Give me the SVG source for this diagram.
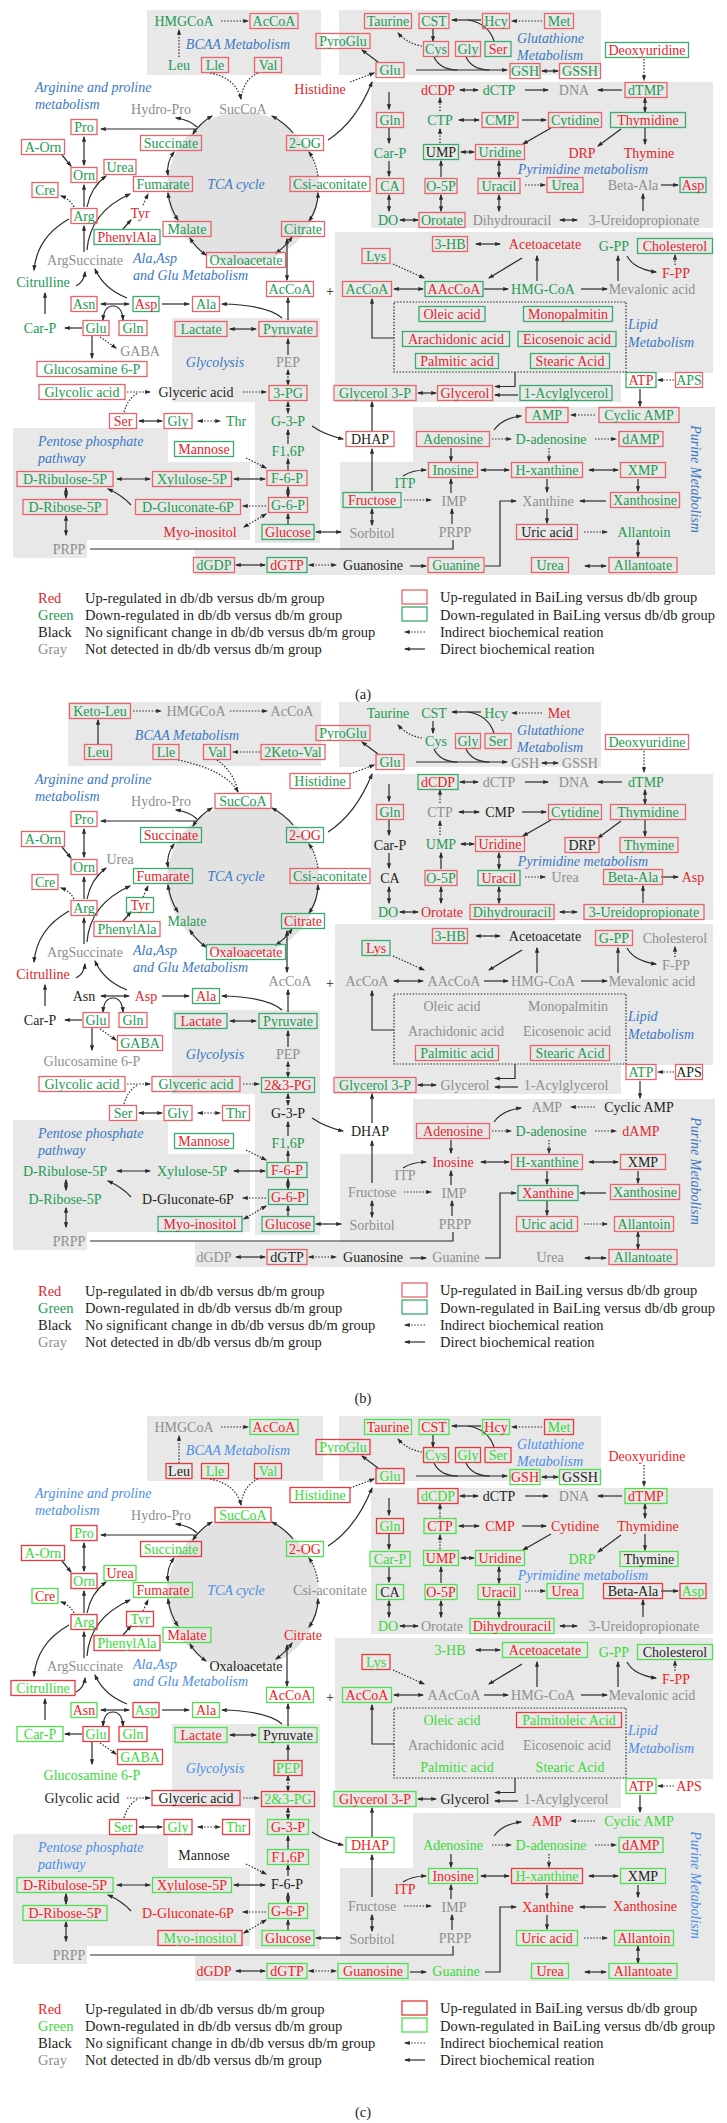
<svg xmlns="http://www.w3.org/2000/svg" width="727" height="2123" viewBox="0 0 727 2123">
<style>
text{font-family:"Liberation Serif","Times New Roman",serif;font-size:14px;dominant-baseline:central;text-anchor:middle}
.r{fill:#e1262d}.g{fill:#1e9a52}.k{fill:#231f20}.y{fill:#8e8e8e}
.R,.G{fill:none;stroke-width:1.3}.R{stroke:#e8646b}.G{stroke:#3aaa6e}
.pc .r{fill:#ee1d24}.pc .g{fill:#39d839}.pc .R{stroke:#ea3a3f}.pc .G{stroke:#4fe04f}
.lab{font-style:italic;fill:#3a78c3}.pc .lab{fill:#4a8ee6}
.st{text-anchor:start}
.bg{fill:#e8e8e8}
.s{fill:none;stroke:#2b2b2b;stroke-width:1.2}
.d{stroke-dasharray:1.5 1.6}
.e{marker-end:url(#m)}
.w{marker-start:url(#m);marker-end:url(#m)}
.lg text{text-anchor:start;font-size:14.5px}
</style>
<defs>
<marker id="m" viewBox="0 0 10 10" refX="8" refY="5" markerWidth="6" markerHeight="6" markerUnits="userSpaceOnUse" orient="auto-start-reverse"><path d="M0,1.5 L10,5 L0,8.5 z" fill="#2b2b2b"/></marker>
<g id="bgc">
<rect class="bg" x="339" y="10" width="262" height="65"/>
<rect class="bg" x="371" y="82" width="342" height="146"/>
<path class="bg" d="M335,232H713V373H621V402H335Z"/>
<path class="bg" d="M172,318H320V543H255V402H172Z"/>
<path class="bg" d="M13,428H168V462H250V540H87V558H13Z"/>
<path class="bg" d="M340,462H413V407H715V575H195V550H340Z"/>
<circle cx="243" cy="188" r="76" fill="#e2e2e2"/>
</g>
<g id="cc">
<path class="s e" d="M197,129H101"/>
<path class="s e" d="M197,127Q190,120 176,118"/>
<path class="s w" d="M193,134Q200,123 212,116"/>
<path class="s e" d="M293,133Q285,123 272,116"/>
<path class="s w" d="M174,152Q166,163 168,175"/>
<path class="s w" d="M168,193Q170,208 178,220"/>
<path class="s w" d="M190,238Q196,248 206,255"/>
<path class="s w" d="M276,253Q286,246 292,237"/>
<path class="s w" d="M309,221Q318,208 318,193"/>
<path class="s d e" d="M318,176Q316,162 309,152"/>
<path class="s w" d="M287,239V280"/>
<path class="s e" d="M288,320V298"/>
<path class="s e" d="M282,318Q268,305 222,304"/>
<path class="s w" d="M84,137V165"/>
<path class="s e" d="M62,155L71,166"/>
<path class="s e" d="M84,207V185"/>
<path class="s e" d="M87,207Q91,187 106,176"/>
<path class="s d e" d="M74,207Q70,199 61,196"/>
<path class="s d e" d="M143,205L148,194"/>
<path class="s e" d="M123,229L131,220"/>
<path class="s e" d="M84,252V226"/>
<path class="s e" d="M87,250Q90,212 130,194"/>
<path class="s e" d="M69,219Q37,237 34,270"/>
<path class="s e" d="M76,286Q84,282 85,272"/>
<path class="s e" d="M127,298Q104,289 95,269"/>
<path class="s w" d="M101,304H129"/>
<path class="s e" d="M162,304H189"/>
<path class="s w" d="M103,320Q104,306 113,306Q122,306 123,320"/>
<path class="s e" d="M45,314V293"/>
<path class="s e" d="M82,328H65"/>
<path class="s e" d="M92,336V358"/>
<path class="s d e" d="M100,337L116,348"/>
<path class="s d e" d="M127,392H150"/>
<path class="s d" d="M124,412Q128,398 138,393"/>
<path class="s d w" d="M288,370V385"/>
<path class="s e" d="M288,355V339"/>
<path class="s w" d="M230,329H256"/>
<path class="s d w" d="M288,402V413"/>
<path class="s e" d="M312,426Q325,435 343,439"/>
<path class="s e" d="M288,444V430"/>
<path class="s e" d="M288,470V459"/>
<path class="s d e" d="M246,458L266,468"/>
<path class="s w" d="M139,421H162"/>
<path class="s d w" d="M198,421H220"/>
<path class="s w" d="M117,479H150"/>
<path class="s w" d="M234,479H265"/>
<path class="s w" d="M66,488V498"/>
<path class="s e" d="M131,505Q122,495 108,489"/>
<path class="s d e" d="M266,506H243"/>
<path class="s w" d="M288,487V497"/>
<path class="s d w" d="M244,527L266,514"/>
<path class="s e" d="M288,525V514"/>
<path class="s w" d="M316,532H341"/>
<path class="s w" d="M66,516V535"/>
<path class="s" d="M90,549H453V540"/>
<path class="s w" d="M236,565H265"/>
<path class="s d w" d="M309,565H336"/>
<path class="s d e" d="M542,21H512"/>
<path class="s e" d="M481,20H452"/>
<path class="s" d="M494,41Q488,23 468,20"/>
<path class="s e" d="M433,29V41"/>
<path class="s d e" d="M422,46Q408,44 398,33"/>
<path class="s e" d="M378,62L362,50"/>
<path class="s d e" d="M350,82L374,73"/>
<path class="s e" d="M328,140Q356,122 372,82"/>
<path class="s e" d="M416,70H507"/>
<path class="s" d="M434,57Q440,70 458,70"/>
<path class="s" d="M466,57Q472,70 490,70"/>
<path class="s w" d="M542,71H558"/>
<path class="s d e" d="M644,59V80"/>
<path class="s w" d="M460,90H478"/>
<path class="s e" d="M525,90H548"/>
<path class="s e" d="M622,90H598"/>
<path class="s d e" d="M440,111V98"/>
<path class="s w" d="M645,98V112"/>
<path class="s w" d="M459,120H479"/>
<path class="s e" d="M522,120H546"/>
<path class="s e" d="M389,92V109"/>
<path class="s e" d="M389,128V143"/>
<path class="s d e" d="M440,143V129"/>
<path class="s w" d="M461,152H474"/>
<path class="s e" d="M551,128L523,144"/>
<path class="s e" d="M621,129L598,146"/>
<path class="s e" d="M645,128V144"/>
<path class="s e" d="M389,161V176"/>
<path class="s e" d="M441,177V161"/>
<path class="s w" d="M499,161V177"/>
<path class="s d e" d="M525,185H545"/>
<path class="s e" d="M661,185H678"/>
<path class="s w" d="M389,195V211"/>
<path class="s w" d="M441,195V211"/>
<path class="s w" d="M499,195V211"/>
<path class="s e" d="M643,211V194"/>
<path class="s w" d="M400,220H418"/>
<path class="s w" d="M560,220H577"/>
<path class="s w" d="M476,244H500"/>
<path class="s e" d="M522,258L489,278"/>
<path class="s e" d="M537,281V256"/>
<path class="s e" d="M484,289H508"/>
<path class="s e" d="M581,289H607"/>
<path class="s e" d="M618,281V256"/>
<path class="s e" d="M627,256Q634,269 656,272"/>
<path class="s d e" d="M675,265V255"/>
<path class="s d e" d="M393,264L424,278"/>
<path class="s w" d="M394,289H423"/>
<rect class="s d" x="394" y="302" width="232" height="70"/>
<path class="s e" d="M394,338H372V299"/>
<path class="s e" d="M515,372V386.5H495"/>
<path class="s e" d="M518,395H495"/>
<path class="s w" d="M418,393H436"/>
<path class="s d e" d="M674,380H658"/>
<path class="s e" d="M640,389V406"/>
<path class="s d e" d="M595,415H571"/>
<path class="s e" d="M494,430Q503,418 521,416"/>
<path class="s d e" d="M492,439H511"/>
<path class="s d e" d="M595,439H616"/>
<path class="s e" d="M372,431V402"/>
<path class="s e" d="M372,491V449"/>
<path class="s e" d="M451,448V461"/>
<path class="s d e" d="M549,448V461"/>
<path class="s e" d="M403,476Q412,470 426,470"/>
<path class="s w" d="M481,470H509"/>
<path class="s w" d="M589,470H618"/>
<path class="s d e" d="M404,500H431"/>
<path class="s e" d="M451,493V479"/>
<path class="s e" d="M547,479V492"/>
<path class="s e" d="M638,479V491"/>
<path class="s e" d="M606,501H580"/>
<path class="s w" d="M372,509V525"/>
<path class="s e" d="M452,524V509"/>
<path class="s e" d="M485,566H500V501H516"/>
<path class="s e" d="M547,509V523"/>
<path class="s d e" d="M584,532H607"/>
<path class="s w" d="M638,540V557"/>
<path class="s e" d="M410,566H426"/>
<path class="s w" d="M585,566H606"/>
</g>
</defs>

<g id="panel-a">
<use href="#bgc"/>
<rect class="bg" x="147" y="10" width="174" height="65"/>
<g id="connectors-a">
<use href="#cc"/>
<path class="s d e" d="M221,21H248"/>
<path class="s d e" d="M179,57V30"/>
<path class="s d e" d="M210,73Q236,78 241,99"/>
<path class="s d" d="M258,73Q243,80 241,99"/>
<path class="s d e" d="M243,392H266"/>
</g>
<g id="labels-a">
<text class="lab" x="238" y="44">BCAA Metabolism</text>
<text class="lab st" x="35" y="87">Arginine and proline</text>
<text class="lab st" x="35" y="104">metabolism</text>
<text class="lab" x="236" y="184">TCA cycle</text>
<text class="lab st" x="133" y="258">Ala,Asp</text>
<text class="lab st" x="133" y="275">and Glu Metabolism</text>
<text class="lab" x="215" y="362">Glycolysis</text>
<text class="lab st" x="38" y="441">Pentose phosphate</text>
<text class="lab st" x="38" y="458">pathway</text>
<text class="lab st" x="517" y="38">Glutathione</text>
<text class="lab st" x="517" y="55">Metabolism</text>
<text class="lab" x="583" y="169">Pyrimidine metabolism</text>
<text class="lab st" x="628" y="324">Lipid</text>
<text class="lab st" x="628" y="342">Metabolism</text>
<text class="lab" transform="rotate(90 695 479)" x="695" y="479">Purine Metabolism</text>
<text class="k" x="330" y="291">+</text>
</g>
<g id="a-HMGCoA"><text class="g" x="184" y="21">HMGCoA</text></g>
<g id="a-AcCoA1"><rect class="R" x="250" y="13.5" width="48" height="15"/><text class="g" x="274" y="21">AcCoA</text></g>
<g id="a-Leu"><text class="g" x="179" y="65">Leu</text></g>
<g id="a-Lle"><rect class="R" x="201.5" y="57.5" width="27" height="15"/><text class="g" x="215" y="65">Lle</text></g>
<g id="a-Val"><rect class="R" x="254.5" y="57.5" width="27" height="15"/><text class="g" x="268" y="65">Val</text></g>
<g id="a-SucCoA"><text class="y" x="243" y="109">SucCoA</text></g>
<g id="a-HydroPro"><text class="y" x="161" y="109">Hydro-Pro</text></g>
<g id="a-Histidine"><text class="r" x="320" y="89">Histidine</text></g>
<g id="a-Pro"><rect class="R" x="71" y="119.5" width="26" height="15"/><text class="g" x="84" y="127">Pro</text></g>
<g id="a-AOrn"><rect class="R" x="21.5" y="139.5" width="43" height="15"/><text class="g" x="43" y="147">A-Orn</text></g>
<g id="a-Succinate"><rect class="R" x="140.5" y="135.5" width="61" height="15"/><text class="g" x="171" y="143">Succinate</text></g>
<g id="a-2OG"><rect class="R" x="286.5" y="135.5" width="37" height="15"/><text class="g" x="305" y="143">2-OG</text></g>
<g id="a-Orn"><rect class="R" x="71" y="167.5" width="26" height="15"/><text class="g" x="84" y="175">Orn</text></g>
<g id="a-Urea1"><rect class="R" x="104" y="159.5" width="32" height="15"/><text class="g" x="120" y="167">Urea</text></g>
<g id="a-Cre"><rect class="R" x="32" y="182.5" width="26" height="15"/><text class="g" x="45" y="190">Cre</text></g>
<g id="a-Fumarate"><rect class="R" x="133.5" y="176.5" width="59" height="15"/><text class="g" x="163" y="184">Fumarate</text></g>
<g id="a-Csi"><rect class="R" x="290" y="176.5" width="80" height="15"/><text class="g" x="330" y="184">Csi-aconitate</text></g>
<g id="a-Arg"><rect class="R" x="71" y="208.5" width="26" height="15"/><text class="g" x="84" y="216">Arg</text></g>
<g id="a-Tyr"><text class="r" x="140" y="213">Tyr</text></g>
<g id="a-Malate"><rect class="R" x="163" y="221.5" width="48" height="15"/><text class="g" x="187" y="229">Malate</text></g>
<g id="a-Citrate"><rect class="R" x="281.5" y="221.5" width="43" height="15"/><text class="g" x="303" y="229">Citrate</text></g>
<g id="a-PhenylAla"><rect class="G" x="94" y="229.5" width="66" height="15"/><text class="r" x="127" y="237">PhenylAla</text></g>
<g id="a-ArgSuccinate"><text class="y" x="85" y="260">ArgSuccinate</text></g>
<g id="a-Oxaloacetate"><rect class="R" x="206.5" y="252.5" width="79" height="15"/><text class="g" x="246" y="260">Oxaloacetate</text></g>
<g id="a-Citrulline"><text class="g" x="43" y="282">Citrulline</text></g>
<g id="a-AcCoA2"><rect class="R" x="266.5" y="281.5" width="47" height="15"/><text class="g" x="290" y="289">AcCoA</text></g>
<g id="a-Asn"><rect class="R" x="71" y="296.5" width="26" height="15"/><text class="g" x="84" y="304">Asn</text></g>
<g id="a-Asp1"><rect class="G" x="133" y="296.5" width="26" height="15"/><text class="r" x="146" y="304">Asp</text></g>
<g id="a-Ala"><rect class="R" x="192.5" y="296.5" width="27" height="15"/><text class="g" x="206" y="304">Ala</text></g>
<g id="a-CarP1"><text class="g" x="40" y="328">Car-P</text></g>
<g id="a-Glu1"><rect class="R" x="83" y="320.5" width="26" height="15"/><text class="g" x="96" y="328">Glu</text></g>
<g id="a-Gln1"><rect class="R" x="119" y="320.5" width="28" height="15"/><text class="g" x="133" y="328">Gln</text></g>
<g id="a-GABA"><text class="y" x="140" y="351">GABA</text></g>
<g id="a-Glucosamine"><rect class="R" x="37" y="361.5" width="110" height="15"/><text class="g" x="92" y="369">Glucosamine 6-P</text></g>
<g id="a-Glycolic"><rect class="R" x="39" y="384.5" width="86" height="15"/><text class="g" x="82" y="392">Glycolic acid</text></g>
<g id="a-Glyceric"><text class="k" x="196" y="392">Glyceric acid</text></g>
<g id="a-3PG"><rect class="R" x="269" y="385.5" width="38" height="15"/><text class="g" x="288" y="393">3-PG</text></g>
<g id="a-Lactate"><rect class="R" x="175" y="321.5" width="52" height="15"/><text class="g" x="201" y="329">Lactate</text></g>
<g id="a-Pyruvate"><rect class="R" x="259" y="321.5" width="58" height="15"/><text class="g" x="288" y="329">Pyruvate</text></g>
<g id="a-PEP"><text class="y" x="288" y="362">PEP</text></g>
<g id="a-Ser1"><rect class="R" x="109.5" y="413.5" width="27" height="15"/><text class="r" x="123" y="421">Ser</text></g>
<g id="a-Gly1"><rect class="R" x="164" y="413.5" width="28" height="15"/><text class="g" x="178" y="421">Gly</text></g>
<g id="a-Thr"><text class="g" x="236" y="421">Thr</text></g>
<g id="a-G3P"><text class="g" x="288" y="421">G-3-P</text></g>
<g id="a-F16P"><text class="g" x="288" y="451">F1,6P</text></g>
<g id="a-Mannose"><rect class="G" x="174.5" y="441.5" width="59" height="15"/><text class="r" x="204" y="449">Mannose</text></g>
<g id="a-F6P"><rect class="R" x="267" y="470.5" width="40" height="15"/><text class="g" x="287" y="478">F-6-P</text></g>
<g id="a-Ribulose"><rect class="R" x="17" y="471.5" width="96" height="15"/><text class="g" x="65" y="479">D-Ribulose-5P</text></g>
<g id="a-Xylulose"><rect class="R" x="152.5" y="471.5" width="79" height="15"/><text class="g" x="192" y="479">Xylulose-5P</text></g>
<g id="a-Ribose"><rect class="R" x="23" y="499.5" width="84" height="15"/><text class="g" x="65" y="507">D-Ribose-5P</text></g>
<g id="a-Gluconate"><rect class="R" x="135.5" y="499.5" width="105" height="15"/><text class="g" x="188" y="507">D-Gluconate-6P</text></g>
<g id="a-G6P"><rect class="R" x="268.5" y="497.5" width="39" height="15"/><text class="g" x="288" y="505">G-6-P</text></g>
<g id="a-Myo"><text class="r" x="200" y="532">Myo-inositol</text></g>
<g id="a-Glucose"><rect class="G" x="262" y="524.5" width="52" height="15"/><text class="r" x="288" y="532">Glucose</text></g>
<g id="a-PRPP1"><text class="y" x="69" y="549">PRPP</text></g>
<g id="a-dGDP"><rect class="R" x="193.5" y="557.5" width="41" height="15"/><text class="g" x="214" y="565">dGDP</text></g>
<g id="a-dGTP"><rect class="G" x="267" y="557.5" width="40" height="15"/><text class="r" x="287" y="565">dGTP</text></g>
<g id="a-Taurine"><rect class="R" x="364.5" y="13.5" width="47" height="15"/><text class="g" x="388" y="21">Taurine</text></g>
<g id="a-CST"><rect class="R" x="419" y="13.5" width="30" height="15"/><text class="g" x="434" y="21">CST</text></g>
<g id="a-Hcy"><rect class="R" x="482.5" y="13.5" width="27" height="15"/><text class="g" x="496" y="21">Hcy</text></g>
<g id="a-Met"><rect class="R" x="544.5" y="13.5" width="29" height="15"/><text class="g" x="559" y="21">Met</text></g>
<g id="a-PyroGlu"><rect class="R" x="316" y="33.5" width="54" height="15"/><text class="g" x="343" y="41">PyroGlu</text></g>
<g id="a-Glu2"><rect class="R" x="376" y="62.5" width="28" height="15"/><text class="g" x="390" y="70">Glu</text></g>
<g id="a-Cys"><rect class="R" x="423.5" y="41.5" width="25" height="15"/><text class="g" x="436" y="49">Cys</text></g>
<g id="a-Gly2"><rect class="R" x="455.5" y="41.5" width="25" height="15"/><text class="g" x="468" y="49">Gly</text></g>
<g id="a-Ser2"><rect class="G" x="485" y="41.5" width="26" height="15"/><text class="r" x="498" y="49">Ser</text></g>
<g id="a-GSH"><rect class="R" x="510" y="63.5" width="30" height="15"/><text class="g" x="525" y="71">GSH</text></g>
<g id="a-GSSH"><rect class="R" x="559.5" y="63.5" width="41" height="15"/><text class="g" x="580" y="71">GSSH</text></g>
<g id="a-Deoxyuridine"><rect class="G" x="605.5" y="42.5" width="83" height="15"/><text class="r" x="647" y="50">Deoxyuridine</text></g>
<g id="a-dCDP"><text class="r" x="438" y="90">dCDP</text></g>
<g id="a-dCTP"><text class="g" x="499" y="90">dCTP</text></g>
<g id="a-DNA"><text class="y" x="574" y="90">DNA</text></g>
<g id="a-dTMP"><rect class="R" x="625" y="82.5" width="42" height="15"/><text class="g" x="646" y="90">dTMP</text></g>
<g id="a-Gln2"><rect class="R" x="376.5" y="112.5" width="27" height="15"/><text class="g" x="390" y="120">Gln</text></g>
<g id="a-CTP"><text class="g" x="440" y="120">CTP</text></g>
<g id="a-CMP"><rect class="R" x="482" y="112.5" width="36" height="15"/><text class="g" x="500" y="120">CMP</text></g>
<g id="a-Cytidine"><rect class="R" x="548.5" y="112.5" width="53" height="15"/><text class="g" x="575" y="120">Cytidine</text></g>
<g id="a-Thymidine"><rect class="G" x="610.5" y="112.5" width="75" height="15"/><text class="r" x="648" y="120">Thymidine</text></g>
<g id="a-CarP2"><text class="g" x="390" y="153">Car-P</text></g>
<g id="a-UMP"><rect class="G" x="423.5" y="144.5" width="35" height="15"/><text class="k" x="441" y="152">UMP</text></g>
<g id="a-Uridine"><rect class="R" x="475.5" y="144.5" width="49" height="15"/><text class="g" x="500" y="152">Uridine</text></g>
<g id="a-DRP"><text class="r" x="582" y="153">DRP</text></g>
<g id="a-Thymine"><text class="r" x="649" y="153">Thymine</text></g>
<g id="a-CA"><rect class="R" x="376.5" y="178.5" width="27" height="15"/><text class="g" x="390" y="186">CA</text></g>
<g id="a-O5P"><rect class="R" x="425" y="178.5" width="32" height="15"/><text class="g" x="441" y="186">O-5P</text></g>
<g id="a-Uracil"><rect class="R" x="478" y="178.5" width="42" height="15"/><text class="g" x="499" y="186">Uracil</text></g>
<g id="a-Urea2"><rect class="R" x="547" y="177.5" width="36" height="15"/><text class="g" x="565" y="185">Urea</text></g>
<g id="a-BetaAla"><text class="y" x="633" y="185">Beta-Ala</text></g>
<g id="a-Asp2"><rect class="G" x="680" y="177.5" width="26" height="15"/><text class="r" x="693" y="185">Asp</text></g>
<g id="a-DO"><text class="g" x="388" y="220">DO</text></g>
<g id="a-Orotate"><rect class="R" x="419" y="212.5" width="46" height="15"/><text class="g" x="442" y="220">Orotate</text></g>
<g id="a-Dihydrouracil"><text class="y" x="512" y="220">Dihydrouracil</text></g>
<g id="a-Ureido"><text class="y" x="644" y="220">3-Ureidopropionate</text></g>
<g id="a-3HB"><rect class="R" x="432.5" y="236.5" width="35" height="15"/><text class="g" x="450" y="244">3-HB</text></g>
<g id="a-Acetoacetate"><text class="r" x="545" y="244">Acetoacetate</text></g>
<g id="a-GPP"><text class="g" x="614" y="246">G-PP</text></g>
<g id="a-Cholesterol"><rect class="G" x="637.5" y="238.5" width="75" height="15"/><text class="r" x="675" y="246">Cholesterol</text></g>
<g id="a-FPP"><text class="r" x="676" y="273">F-PP</text></g>
<g id="a-Lys"><rect class="R" x="362" y="248.5" width="28" height="15"/><text class="g" x="376" y="256">Lys</text></g>
<g id="a-AcCoA3"><rect class="R" x="342.5" y="281.5" width="49" height="15"/><text class="g" x="367" y="289">AcCoA</text></g>
<g id="a-AAcCoA"><rect class="G" x="425" y="281.5" width="58" height="15"/><text class="r" x="454" y="289">AAcCoA</text></g>
<g id="a-HMGCoA2"><text class="g" x="543" y="289">HMG-CoA</text></g>
<g id="a-Mevalonic"><text class="y" x="652" y="289">Mevalonic acid</text></g>
<g id="a-Oleic"><rect class="G" x="419" y="306.5" width="66" height="15"/><text class="r" x="452" y="314">Oleic acid</text></g>
<g id="a-Monopalmitin"><rect class="G" x="523.5" y="306.5" width="89" height="15"/><text class="r" x="568" y="314">Monopalmitin</text></g>
<g id="a-Arachidonic"><rect class="G" x="402.5" y="331.5" width="107" height="15"/><text class="r" x="456" y="339">Arachidonic acid</text></g>
<g id="a-Eicosenoic"><rect class="G" x="518" y="331.5" width="98" height="15"/><text class="r" x="567" y="339">Eicosenoic acid</text></g>
<g id="a-Palmitic"><rect class="G" x="415.5" y="353.5" width="83" height="15"/><text class="r" x="457" y="361">Palmitic acid</text></g>
<g id="a-Stearic"><rect class="G" x="530.5" y="353.5" width="79" height="15"/><text class="r" x="570" y="361">Stearic Acid</text></g>
<g id="a-Glycerol3P"><rect class="R" x="334" y="385.5" width="82" height="15"/><text class="g" x="375" y="393">Glycerol 3-P</text></g>
<g id="a-Glycerol"><rect class="R" x="437.5" y="385.5" width="55" height="15"/><text class="r" x="465" y="393">Glycerol</text></g>
<g id="a-Acylglycerol"><rect class="G" x="520" y="385.5" width="92" height="15"/><text class="g" x="566" y="393">1-Acylglycerol</text></g>
<g id="a-ATP"><rect class="G" x="626" y="372.5" width="30" height="15"/><text class="r" x="641" y="380">ATP</text></g>
<g id="a-APS"><rect class="R" x="675.5" y="372.5" width="27" height="15"/><text class="g" x="689" y="380">APS</text></g>
<g id="a-AMP"><rect class="R" x="526" y="407.5" width="42" height="15"/><text class="g" x="547" y="415">AMP</text></g>
<g id="a-CyclicAMP"><rect class="R" x="599" y="407.5" width="80" height="15"/><text class="g" x="639" y="415">Cyclic AMP</text></g>
<g id="a-Adenosine"><rect class="R" x="416.5" y="431.5" width="73" height="15"/><text class="g" x="453" y="439">Adenosine</text></g>
<g id="a-Dadenosine"><text class="g" x="551" y="439">D-adenosine</text></g>
<g id="a-dAMP"><rect class="R" x="619" y="431.5" width="44" height="15"/><text class="g" x="641" y="439">dAMP</text></g>
<g id="a-DHAP"><rect class="R" x="346" y="431.5" width="48" height="15"/><text class="k" x="370" y="439">DHAP</text></g>
<g id="a-Inosine"><rect class="R" x="428.5" y="462.5" width="49" height="15"/><text class="g" x="453" y="470">Inosine</text></g>
<g id="a-Hxanthine"><rect class="R" x="511.5" y="462.5" width="71" height="15"/><text class="g" x="547" y="470">H-xanthine</text></g>
<g id="a-XMP"><rect class="R" x="620.5" y="462.5" width="45" height="15"/><text class="g" x="643" y="470">XMP</text></g>
<g id="a-ITP"><text class="g" x="405" y="483">ITP</text></g>
<g id="a-Fructose"><rect class="G" x="343" y="492.5" width="58" height="15"/><text class="r" x="372" y="500">Fructose</text></g>
<g id="a-IMP"><text class="y" x="454" y="501">IMP</text></g>
<g id="a-Xanthine"><text class="y" x="548" y="501">Xanthine</text></g>
<g id="a-Xanthosine"><rect class="R" x="610.5" y="492.5" width="69" height="15"/><text class="g" x="645" y="500">Xanthosine</text></g>
<g id="a-Sorbitol"><text class="y" x="372" y="533">Sorbitol</text></g>
<g id="a-PRPP2"><text class="y" x="455" y="532">PRPP</text></g>
<g id="a-UricAcid"><rect class="R" x="516.5" y="524.5" width="61" height="15"/><text class="k" x="547" y="532">Uric acid</text></g>
<g id="a-Allantoin"><text class="g" x="644" y="532">Allantoin</text></g>
<g id="a-Guanosine"><text class="k" x="373" y="565">Guanosine</text></g>
<g id="a-Guanine"><rect class="R" x="428" y="557.5" width="56" height="15"/><text class="g" x="456" y="565">Guanine</text></g>
<g id="a-Urea3"><rect class="R" x="531.5" y="557.5" width="37" height="15"/><text class="g" x="550" y="565">Urea</text></g>
<g id="a-Allantoate"><rect class="R" x="609" y="557.5" width="68" height="15"/><text class="g" x="643" y="565">Allantoate</text></g>
<g id="legend-a" class="lg">
<text class="r" x="38" y="598">Red</text><text class="k" x="85" y="598">Up-regulated in db/db versus db/m group</text>
<text class="g" x="38" y="615">Green</text><text class="k" x="85" y="615">Down-regulated in db/db versus db/m group</text>
<text class="k" x="38" y="632">Black</text><text class="k" x="85" y="632">No significant change in db/db versus db/m group</text>
<text class="y" x="38" y="649">Gray</text><text class="k" x="85" y="649">Not detected in db/db versus db/m group</text>
<rect class="R" x="402" y="590" width="25" height="14"/><text class="k" x="440" y="597">Up-regulated in BaiLing versus db/db group</text>
<rect class="G" x="402" y="607" width="25" height="14"/><text class="k" x="440" y="615">Down-regulated in BaiLing versus db/db group</text>
<path class="s d e" d="M425,632H405"/><text class="k" x="440" y="632">Indirect biochemical reation</text>
<path class="s e" d="M425,649H405"/><text class="k" x="440" y="649">Direct biochemical reation</text>
</g>
</g>
<text class="k" x="363" y="694" style="font-size:14.5px">(a)</text>

<g id="panel-b" transform="translate(0,692)">
<use href="#bgc"/>
<rect class="bg" x="68" y="10" width="253" height="64"/>
<g id="connectors-b">
<use href="#cc"/>
<path class="s d e" d="M133,19H161"/>
<path class="s d e" d="M230,19H267"/>
<path class="s e" d="M98,52V28"/>
<path class="s d e" d="M260,60H233"/>
<path class="s d e" d="M178,68Q226,78 238,100"/>
<path class="s d" d="M217,68Q234,80 238,100"/>
<path class="s d e" d="M243,392H259"/>
</g>
<g id="labels-b">
<text class="lab" x="187" y="43">BCAA Metabolism</text>
<text class="lab st" x="35" y="87">Arginine and proline</text>
<text class="lab st" x="35" y="104">metabolism</text>
<text class="lab" x="236" y="184">TCA cycle</text>
<text class="lab st" x="133" y="258">Ala,Asp</text>
<text class="lab st" x="133" y="275">and Glu Metabolism</text>
<text class="lab" x="215" y="362">Glycolysis</text>
<text class="lab st" x="38" y="441">Pentose phosphate</text>
<text class="lab st" x="38" y="458">pathway</text>
<text class="lab st" x="517" y="38">Glutathione</text>
<text class="lab st" x="517" y="55">Metabolism</text>
<text class="lab" x="583" y="169">Pyrimidine metabolism</text>
<text class="lab st" x="628" y="324">Lipid</text>
<text class="lab st" x="628" y="342">Metabolism</text>
<text class="lab" transform="rotate(90 695 479)" x="695" y="479">Purine Metabolism</text>
<text class="k" x="330" y="291">+</text>
</g>
<g id="b-KetoLeu"><rect class="R" x="69.5" y="11.5" width="61" height="15"/><text class="g" x="100" y="19">Keto-Leu</text></g>
<g id="b-HMGCoA"><text class="y" x="196" y="19">HMGCoA</text></g>
<g id="b-AcCoA1"><text class="y" x="292" y="19">AcCoA</text></g>
<g id="b-Leu"><rect class="R" x="84.5" y="52.5" width="27" height="15"/><text class="g" x="98" y="60">Leu</text></g>
<g id="b-Lle"><rect class="R" x="153" y="52.5" width="26" height="15"/><text class="g" x="166" y="60">Lle</text></g>
<g id="b-Val"><rect class="R" x="203.5" y="52.5" width="27" height="15"/><text class="g" x="217" y="60">Val</text></g>
<g id="b-2KetoVal"><rect class="R" x="261" y="52.5" width="64" height="15"/><text class="g" x="293" y="60">2Keto-Val</text></g>
<g id="b-SucCoA"><rect class="R" x="215" y="101.5" width="56" height="15"/><text class="g" x="243" y="109">SucCoA</text></g>
<g id="b-HydroPro"><text class="y" x="161" y="109">Hydro-Pro</text></g>
<g id="b-Histidine"><rect class="R" x="290" y="81.5" width="60" height="15"/><text class="g" x="320" y="89">Histidine</text></g>
<g id="b-Pro"><rect class="R" x="71" y="119.5" width="26" height="15"/><text class="g" x="84" y="127">Pro</text></g>
<g id="b-AOrn"><rect class="R" x="21.5" y="139.5" width="43" height="15"/><text class="g" x="43" y="147">A-Orn</text></g>
<g id="b-Succinate"><rect class="G" x="140.5" y="135.5" width="61" height="15"/><text class="r" x="171" y="143">Succinate</text></g>
<g id="b-2OG"><rect class="G" x="286.5" y="135.5" width="37" height="15"/><text class="r" x="305" y="143">2-OG</text></g>
<g id="b-Orn"><rect class="R" x="71" y="167.5" width="26" height="15"/><text class="g" x="84" y="175">Orn</text></g>
<g id="b-Urea1"><text class="y" x="120" y="167">Urea</text></g>
<g id="b-Cre"><rect class="R" x="32" y="182.5" width="26" height="15"/><text class="g" x="45" y="190">Cre</text></g>
<g id="b-Fumarate"><rect class="G" x="133.5" y="176.5" width="59" height="15"/><text class="r" x="163" y="184">Fumarate</text></g>
<g id="b-Csi"><rect class="R" x="290" y="176.5" width="80" height="15"/><text class="g" x="330" y="184">Csi-aconitate</text></g>
<g id="b-Arg"><rect class="R" x="71" y="208.5" width="26" height="15"/><text class="g" x="84" y="216">Arg</text></g>
<g id="b-Tyr"><rect class="G" x="126.5" y="205.5" width="27" height="15"/><text class="r" x="140" y="213">Tyr</text></g>
<g id="b-Malate"><text class="g" x="187" y="229">Malate</text></g>
<g id="b-Citrate"><rect class="G" x="281.5" y="221.5" width="43" height="15"/><text class="r" x="303" y="229">Citrate</text></g>
<g id="b-PhenylAla"><rect class="R" x="94" y="229.5" width="66" height="15"/><text class="g" x="127" y="237">PhenylAla</text></g>
<g id="b-ArgSuccinate"><text class="y" x="85" y="260">ArgSuccinate</text></g>
<g id="b-Oxaloacetate"><rect class="G" x="206.5" y="252.5" width="79" height="15"/><text class="r" x="246" y="260">Oxaloacetate</text></g>
<g id="b-Citrulline"><text class="r" x="43" y="282">Citrulline</text></g>
<g id="b-AcCoA2"><text class="y" x="290" y="289">AcCoA</text></g>
<g id="b-Asn"><text class="k" x="84" y="304">Asn</text></g>
<g id="b-Asp1"><text class="r" x="146" y="304">Asp</text></g>
<g id="b-Ala"><rect class="G" x="192.5" y="296.5" width="27" height="15"/><text class="r" x="206" y="304">Ala</text></g>
<g id="b-CarP1"><text class="k" x="40" y="328">Car-P</text></g>
<g id="b-Glu1"><rect class="R" x="83" y="320.5" width="26" height="15"/><text class="g" x="96" y="328">Glu</text></g>
<g id="b-Gln1"><rect class="R" x="119" y="320.5" width="28" height="15"/><text class="g" x="133" y="328">Gln</text></g>
<g id="b-GABA"><rect class="R" x="117.5" y="343.5" width="45" height="15"/><text class="g" x="140" y="351">GABA</text></g>
<g id="b-Glucosamine"><text class="y" x="92" y="369">Glucosamine 6-P</text></g>
<g id="b-Glycolic"><rect class="R" x="39" y="384.5" width="86" height="15"/><text class="g" x="82" y="392">Glycolic acid</text></g>
<g id="b-Glyceric"><rect class="R" x="152" y="384.5" width="88" height="15"/><text class="g" x="196" y="392">Glyceric acid</text></g>
<g id="b-23PG"><rect class="G" x="261.5" y="385.5" width="53" height="15"/><text class="r" x="288" y="393">2&amp;3-PG</text></g>
<g id="b-Lactate"><rect class="G" x="175" y="321.5" width="52" height="15"/><text class="r" x="201" y="329">Lactate</text></g>
<g id="b-Pyruvate"><rect class="G" x="259" y="321.5" width="58" height="15"/><text class="g" x="288" y="329">Pyruvate</text></g>
<g id="b-PEP"><text class="y" x="288" y="362">PEP</text></g>
<g id="b-Ser1"><rect class="R" x="109.5" y="413.5" width="27" height="15"/><text class="g" x="123" y="421">Ser</text></g>
<g id="b-Gly1"><rect class="R" x="164" y="413.5" width="28" height="15"/><text class="g" x="178" y="421">Gly</text></g>
<g id="b-Thr"><rect class="R" x="222.5" y="413.5" width="27" height="15"/><text class="g" x="236" y="421">Thr</text></g>
<g id="b-G3P"><text class="k" x="288" y="421">G-3-P</text></g>
<g id="b-F16P"><text class="g" x="288" y="451">F1,6P</text></g>
<g id="b-Mannose"><rect class="G" x="174.5" y="441.5" width="59" height="15"/><text class="r" x="204" y="449">Mannose</text></g>
<g id="b-F6P"><rect class="G" x="267" y="470.5" width="40" height="15"/><text class="r" x="287" y="478">F-6-P</text></g>
<g id="b-Ribulose"><text class="g" x="65" y="479">D-Ribulose-5P</text></g>
<g id="b-Xylulose"><text class="g" x="192" y="479">Xylulose-5P</text></g>
<g id="b-Ribose"><text class="g" x="65" y="507">D-Ribose-5P</text></g>
<g id="b-Gluconate"><text class="k" x="188" y="507">D-Gluconate-6P</text></g>
<g id="b-G6P"><rect class="G" x="268.5" y="497.5" width="39" height="15"/><text class="r" x="288" y="505">G-6-P</text></g>
<g id="b-Myo"><rect class="G" x="158" y="524.5" width="84" height="15"/><text class="r" x="200" y="532">Myo-inositol</text></g>
<g id="b-Glucose"><rect class="G" x="262" y="524.5" width="52" height="15"/><text class="r" x="288" y="532">Glucose</text></g>
<g id="b-PRPP1"><text class="y" x="69" y="549">PRPP</text></g>
<g id="b-dGDP"><text class="y" x="214" y="565">dGDP</text></g>
<g id="b-dGTP"><rect class="R" x="267" y="557.5" width="40" height="15"/><text class="k" x="287" y="565">dGTP</text></g>
<g id="b-Taurine"><text class="g" x="388" y="21">Taurine</text></g>
<g id="b-CST"><text class="g" x="434" y="21">CST</text></g>
<g id="b-Hcy"><text class="g" x="496" y="21">Hcy</text></g>
<g id="b-Met"><text class="r" x="559" y="21">Met</text></g>
<g id="b-PyroGlu"><rect class="R" x="316" y="33.5" width="54" height="15"/><text class="g" x="343" y="41">PyroGlu</text></g>
<g id="b-Glu2"><rect class="R" x="376" y="62.5" width="28" height="15"/><text class="g" x="390" y="70">Glu</text></g>
<g id="b-Cys"><text class="g" x="436" y="49">Cys</text></g>
<g id="b-Gly2"><rect class="R" x="455.5" y="41.5" width="25" height="15"/><text class="g" x="468" y="49">Gly</text></g>
<g id="b-Ser2"><rect class="R" x="485" y="41.5" width="26" height="15"/><text class="g" x="498" y="49">Ser</text></g>
<g id="b-GSH"><text class="y" x="525" y="71">GSH</text></g>
<g id="b-GSSH"><text class="y" x="580" y="71">GSSH</text></g>
<g id="b-Deoxyuridine"><rect class="R" x="605.5" y="42.5" width="83" height="15"/><text class="g" x="647" y="50">Deoxyuridine</text></g>
<g id="b-dCDP"><rect class="G" x="418" y="82.5" width="40" height="15"/><text class="r" x="438" y="90">dCDP</text></g>
<g id="b-dCTP"><text class="y" x="499" y="90">dCTP</text></g>
<g id="b-DNA"><text class="y" x="574" y="90">DNA</text></g>
<g id="b-dTMP"><text class="g" x="646" y="90">dTMP</text></g>
<g id="b-Gln2"><rect class="R" x="376.5" y="112.5" width="27" height="15"/><text class="g" x="390" y="120">Gln</text></g>
<g id="b-CTP"><text class="y" x="440" y="120">CTP</text></g>
<g id="b-CMP"><text class="k" x="500" y="120">CMP</text></g>
<g id="b-Cytidine"><rect class="R" x="548.5" y="112.5" width="53" height="15"/><text class="g" x="575" y="120">Cytidine</text></g>
<g id="b-Thymidine"><rect class="R" x="610.5" y="112.5" width="75" height="15"/><text class="g" x="648" y="120">Thymidine</text></g>
<g id="b-CarP2"><text class="k" x="390" y="153">Car-P</text></g>
<g id="b-UMP"><text class="g" x="441" y="152">UMP</text></g>
<g id="b-Uridine"><rect class="R" x="475.5" y="144.5" width="49" height="15"/><text class="r" x="500" y="152">Uridine</text></g>
<g id="b-DRP"><rect class="R" x="565" y="145.5" width="34" height="15"/><text class="k" x="582" y="153">DRP</text></g>
<g id="b-Thymine"><rect class="R" x="620" y="145.5" width="58" height="15"/><text class="g" x="649" y="153">Thymine</text></g>
<g id="b-CA"><text class="k" x="390" y="186">CA</text></g>
<g id="b-O5P"><rect class="R" x="425" y="178.5" width="32" height="15"/><text class="g" x="441" y="186">O-5P</text></g>
<g id="b-Uracil"><rect class="G" x="478" y="178.5" width="42" height="15"/><text class="r" x="499" y="186">Uracil</text></g>
<g id="b-Urea2"><text class="y" x="565" y="185">Urea</text></g>
<g id="b-BetaAla"><rect class="R" x="603.5" y="177.5" width="59" height="15"/><text class="g" x="633" y="185">Beta-Ala</text></g>
<g id="b-Asp2"><text class="r" x="693" y="185">Asp</text></g>
<g id="b-DO"><text class="g" x="388" y="220">DO</text></g>
<g id="b-Orotate"><text class="r" x="442" y="220">Orotate</text></g>
<g id="b-Dihydrouracil"><rect class="R" x="470" y="212.5" width="84" height="15"/><text class="g" x="512" y="220">Dihydrouracil</text></g>
<g id="b-Ureido"><rect class="R" x="584" y="212.5" width="120" height="15"/><text class="g" x="644" y="220">3-Ureidopropionate</text></g>
<g id="b-3HB"><rect class="R" x="432.5" y="236.5" width="35" height="15"/><text class="g" x="450" y="244">3-HB</text></g>
<g id="b-Acetoacetate"><text class="k" x="545" y="244">Acetoacetate</text></g>
<g id="b-GPP"><rect class="R" x="595.5" y="238.5" width="37" height="15"/><text class="g" x="614" y="246">G-PP</text></g>
<g id="b-Cholesterol"><text class="y" x="675" y="246">Cholesterol</text></g>
<g id="b-FPP"><text class="y" x="676" y="273">F-PP</text></g>
<g id="b-Lys"><rect class="G" x="362" y="248.5" width="28" height="15"/><text class="r" x="376" y="256">Lys</text></g>
<g id="b-AcCoA3"><text class="y" x="367" y="289">AcCoA</text></g>
<g id="b-AAcCoA"><text class="y" x="454" y="289">AAcCoA</text></g>
<g id="b-HMGCoA2"><text class="y" x="543" y="289">HMG-CoA</text></g>
<g id="b-Mevalonic"><text class="y" x="652" y="289">Mevalonic acid</text></g>
<g id="b-Oleic"><text class="y" x="452" y="314">Oleic acid</text></g>
<g id="b-Monopalmitin"><text class="y" x="568" y="314">Monopalmitin</text></g>
<g id="b-Arachidonic"><text class="y" x="456" y="339">Arachidonic acid</text></g>
<g id="b-Eicosenoic"><text class="y" x="567" y="339">Eicosenoic acid</text></g>
<g id="b-Palmitic"><rect class="R" x="415.5" y="353.5" width="83" height="15"/><text class="g" x="457" y="361">Palmitic acid</text></g>
<g id="b-Stearic"><rect class="R" x="530.5" y="353.5" width="79" height="15"/><text class="g" x="570" y="361">Stearic Acid</text></g>
<g id="b-Glycerol3P"><rect class="R" x="334" y="385.5" width="82" height="15"/><text class="g" x="375" y="393">Glycerol 3-P</text></g>
<g id="b-Glycerol"><text class="y" x="465" y="393">Glycerol</text></g>
<g id="b-Acylglycerol"><text class="y" x="566" y="393">1-Acylglycerol</text></g>
<g id="b-ATP"><rect class="R" x="626" y="372.5" width="30" height="15"/><text class="g" x="641" y="380">ATP</text></g>
<g id="b-APS"><rect class="R" x="675.5" y="372.5" width="27" height="15"/><text class="k" x="689" y="380">APS</text></g>
<g id="b-AMP"><text class="y" x="547" y="415">AMP</text></g>
<g id="b-CyclicAMP"><text class="k" x="639" y="415">Cyclic AMP</text></g>
<g id="b-Adenosine"><rect class="R" x="416.5" y="431.5" width="73" height="15"/><text class="r" x="453" y="439">Adenosine</text></g>
<g id="b-Dadenosine"><text class="g" x="551" y="439">D-adenosine</text></g>
<g id="b-dAMP"><text class="r" x="641" y="439">dAMP</text></g>
<g id="b-DHAP"><text class="k" x="370" y="439">DHAP</text></g>
<g id="b-Inosine"><text class="r" x="453" y="470">Inosine</text></g>
<g id="b-Hxanthine"><rect class="R" x="511.5" y="462.5" width="71" height="15"/><text class="g" x="547" y="470">H-xanthine</text></g>
<g id="b-XMP"><rect class="R" x="620.5" y="462.5" width="45" height="15"/><text class="k" x="643" y="470">XMP</text></g>
<g id="b-ITP"><text class="y" x="405" y="483">ITP</text></g>
<g id="b-Fructose"><text class="y" x="372" y="500">Fructose</text></g>
<g id="b-IMP"><text class="y" x="454" y="501">IMP</text></g>
<g id="b-Xanthine"><rect class="G" x="518" y="493.5" width="60" height="15"/><text class="r" x="548" y="501">Xanthine</text></g>
<g id="b-Xanthosine"><rect class="R" x="610.5" y="492.5" width="69" height="15"/><text class="g" x="645" y="500">Xanthosine</text></g>
<g id="b-Sorbitol"><text class="y" x="372" y="533">Sorbitol</text></g>
<g id="b-PRPP2"><text class="y" x="455" y="532">PRPP</text></g>
<g id="b-UricAcid"><rect class="R" x="516.5" y="524.5" width="61" height="15"/><text class="g" x="547" y="532">Uric acid</text></g>
<g id="b-Allantoin"><rect class="R" x="614.5" y="524.5" width="59" height="15"/><text class="g" x="644" y="532">Allantoin</text></g>
<g id="b-Guanosine"><text class="k" x="373" y="565">Guanosine</text></g>
<g id="b-Guanine"><text class="y" x="456" y="565">Guanine</text></g>
<g id="b-Urea3"><text class="y" x="550" y="565">Urea</text></g>
<g id="b-Allantoate"><rect class="R" x="609" y="557.5" width="68" height="15"/><text class="g" x="643" y="565">Allantoate</text></g>
<g id="legend-b" class="lg" transform="translate(0,1)">
<text class="r" x="38" y="598">Red</text><text class="k" x="85" y="598">Up-regulated in db/db versus db/m group</text>
<text class="g" x="38" y="615">Green</text><text class="k" x="85" y="615">Down-regulated in db/db versus db/m group</text>
<text class="k" x="38" y="632">Black</text><text class="k" x="85" y="632">No significant change in db/db versus db/m group</text>
<text class="y" x="38" y="649">Gray</text><text class="k" x="85" y="649">Not detected in db/db versus db/m group</text>
<rect class="R" x="402" y="590" width="25" height="14"/><text class="k" x="440" y="597">Up-regulated in BaiLing versus db/db group</text>
<rect class="G" x="402" y="607" width="25" height="14"/><text class="k" x="440" y="615">Down-regulated in BaiLing versus db/db group</text>
<path class="s d e" d="M425,632H405"/><text class="k" x="440" y="632">Indirect biochemical reation</text>
<path class="s e" d="M425,649H405"/><text class="k" x="440" y="649">Direct biochemical reation</text>
</g>
</g>
<text class="k" x="363" y="1398" style="font-size:14.5px">(b)</text>

<g id="panel-c" class="pc" transform="translate(0,1406)">
<use href="#bgc"/>
<rect class="bg" x="147" y="10" width="176" height="65"/>
<g id="connectors-c">
<use href="#cc"/>
<path class="s d e" d="M221,21H248"/>
<path class="s d e" d="M179,57V30"/>
<path class="s d e" d="M210,73Q236,78 241,99"/>
<path class="s d" d="M258,73Q243,80 241,99"/>
<path class="s d e" d="M243,392H259"/>
</g>
<g id="labels-c">
<text class="lab" x="238" y="44">BCAA Metabolism</text>
<text class="lab st" x="35" y="87">Arginine and proline</text>
<text class="lab st" x="35" y="104">metabolism</text>
<text class="lab" x="236" y="184">TCA cycle</text>
<text class="lab st" x="133" y="258">Ala,Asp</text>
<text class="lab st" x="133" y="275">and Glu Metabolism</text>
<text class="lab" x="215" y="362">Glycolysis</text>
<text class="lab st" x="38" y="441">Pentose phosphate</text>
<text class="lab st" x="38" y="458">pathway</text>
<text class="lab st" x="517" y="38">Glutathione</text>
<text class="lab st" x="517" y="55">Metabolism</text>
<text class="lab" x="583" y="169">Pyrimidine metabolism</text>
<text class="lab st" x="628" y="324">Lipid</text>
<text class="lab st" x="628" y="342">Metabolism</text>
<text class="lab" transform="rotate(90 695 479)" x="695" y="479">Purine Metabolism</text>
<text class="k" x="330" y="291">+</text>
</g>
<g id="c-HMGCoA"><text class="y" x="184" y="21">HMGCoA</text></g>
<g id="c-AcCoA1"><rect class="G" x="250" y="13.5" width="48" height="15"/><text class="r" x="274" y="21">AcCoA</text></g>
<g id="c-Leu"><rect class="R" x="166" y="57.5" width="26" height="15"/><text class="k" x="179" y="65">Leu</text></g>
<g id="c-Lle"><rect class="R" x="201.5" y="57.5" width="27" height="15"/><text class="g" x="215" y="65">Lle</text></g>
<g id="c-Val"><rect class="R" x="254.5" y="57.5" width="27" height="15"/><text class="g" x="268" y="65">Val</text></g>
<g id="c-SucCoA"><rect class="R" x="215" y="101.5" width="56" height="15"/><text class="g" x="243" y="109">SucCoA</text></g>
<g id="c-HydroPro"><text class="y" x="161" y="109">Hydro-Pro</text></g>
<g id="c-Histidine"><rect class="R" x="290" y="81.5" width="60" height="15"/><text class="g" x="320" y="89">Histidine</text></g>
<g id="c-Pro"><rect class="R" x="71" y="119.5" width="26" height="15"/><text class="g" x="84" y="127">Pro</text></g>
<g id="c-AOrn"><rect class="R" x="21.5" y="139.5" width="43" height="15"/><text class="g" x="43" y="147">A-Orn</text></g>
<g id="c-Succinate"><rect class="R" x="140.5" y="135.5" width="61" height="15"/><text class="g" x="171" y="143">Succinate</text></g>
<g id="c-2OG"><rect class="G" x="286.5" y="135.5" width="37" height="15"/><text class="r" x="305" y="143">2-OG</text></g>
<g id="c-Orn"><rect class="R" x="71" y="167.5" width="26" height="15"/><text class="g" x="84" y="175">Orn</text></g>
<g id="c-Urea1"><rect class="G" x="104" y="159.5" width="32" height="15"/><text class="r" x="120" y="167">Urea</text></g>
<g id="c-Cre"><rect class="G" x="32" y="182.5" width="26" height="15"/><text class="r" x="45" y="190">Cre</text></g>
<g id="c-Fumarate"><rect class="G" x="133.5" y="176.5" width="59" height="15"/><text class="r" x="163" y="184">Fumarate</text></g>
<g id="c-Csi"><text class="y" x="330" y="184">Csi-aconitate</text></g>
<g id="c-Arg"><rect class="R" x="71" y="208.5" width="26" height="15"/><text class="g" x="84" y="216">Arg</text></g>
<g id="c-Tyr"><rect class="R" x="126.5" y="205.5" width="27" height="15"/><text class="g" x="140" y="213">Tyr</text></g>
<g id="c-Malate"><rect class="G" x="163" y="221.5" width="48" height="15"/><text class="r" x="187" y="229">Malate</text></g>
<g id="c-Citrate"><text class="r" x="303" y="229">Citrate</text></g>
<g id="c-PhenylAla"><rect class="R" x="94" y="229.5" width="66" height="15"/><text class="g" x="127" y="237">PhenylAla</text></g>
<g id="c-ArgSuccinate"><text class="y" x="85" y="260">ArgSuccinate</text></g>
<g id="c-Oxaloacetate"><text class="k" x="246" y="260">Oxaloacetate</text></g>
<g id="c-Citrulline"><rect class="R" x="11" y="274.5" width="64" height="15"/><text class="g" x="43" y="282">Citrulline</text></g>
<g id="c-AcCoA2"><rect class="G" x="266.5" y="281.5" width="47" height="15"/><text class="r" x="290" y="289">AcCoA</text></g>
<g id="c-Asn"><rect class="G" x="71" y="296.5" width="26" height="15"/><text class="r" x="84" y="304">Asn</text></g>
<g id="c-Asp1"><rect class="R" x="133" y="296.5" width="26" height="15"/><text class="g" x="146" y="304">Asp</text></g>
<g id="c-Ala"><rect class="G" x="192.5" y="296.5" width="27" height="15"/><text class="r" x="206" y="304">Ala</text></g>
<g id="c-CarP1"><rect class="G" x="17" y="320.5" width="46" height="15"/><text class="g" x="40" y="328">Car-P</text></g>
<g id="c-Glu1"><rect class="R" x="83" y="320.5" width="26" height="15"/><text class="g" x="96" y="328">Glu</text></g>
<g id="c-Gln1"><rect class="R" x="119" y="320.5" width="28" height="15"/><text class="g" x="133" y="328">Gln</text></g>
<g id="c-GABA"><rect class="R" x="117.5" y="343.5" width="45" height="15"/><text class="g" x="140" y="351">GABA</text></g>
<g id="c-Glucosamine"><text class="g" x="92" y="369">Glucosamine 6-P</text></g>
<g id="c-Glycolic"><text class="k" x="82" y="392">Glycolic acid</text></g>
<g id="c-Glyceric"><rect class="R" x="152" y="384.5" width="88" height="15"/><text class="k" x="196" y="392">Glyceric acid</text></g>
<g id="c-23PG"><rect class="R" x="261.5" y="385.5" width="53" height="15"/><text class="g" x="288" y="393">2&amp;3-PG</text></g>
<g id="c-Lactate"><rect class="G" x="175" y="321.5" width="52" height="15"/><text class="r" x="201" y="329">Lactate</text></g>
<g id="c-Pyruvate"><rect class="G" x="259" y="321.5" width="58" height="15"/><text class="k" x="288" y="329">Pyruvate</text></g>
<g id="c-PEP"><rect class="R" x="274" y="354.5" width="28" height="15"/><text class="g" x="288" y="362">PEP</text></g>
<g id="c-Ser1"><rect class="R" x="109.5" y="413.5" width="27" height="15"/><text class="g" x="123" y="421">Ser</text></g>
<g id="c-Gly1"><rect class="R" x="164" y="413.5" width="28" height="15"/><text class="g" x="178" y="421">Gly</text></g>
<g id="c-Thr"><rect class="R" x="222.5" y="413.5" width="27" height="15"/><text class="g" x="236" y="421">Thr</text></g>
<g id="c-G3P"><rect class="G" x="267.5" y="413.5" width="41" height="15"/><text class="r" x="288" y="421">G-3-P</text></g>
<g id="c-F16P"><rect class="G" x="267.5" y="443.5" width="41" height="15"/><text class="r" x="288" y="451">F1,6P</text></g>
<g id="c-Mannose"><text class="k" x="204" y="449">Mannose</text></g>
<g id="c-F6P"><text class="k" x="287" y="478">F-6-P</text></g>
<g id="c-Ribulose"><rect class="G" x="17" y="471.5" width="96" height="15"/><text class="r" x="65" y="479">D-Ribulose-5P</text></g>
<g id="c-Xylulose"><rect class="G" x="152.5" y="471.5" width="79" height="15"/><text class="r" x="192" y="479">Xylulose-5P</text></g>
<g id="c-Ribose"><rect class="G" x="23" y="499.5" width="84" height="15"/><text class="r" x="65" y="507">D-Ribose-5P</text></g>
<g id="c-Gluconate"><text class="r" x="188" y="507">D-Gluconate-6P</text></g>
<g id="c-G6P"><rect class="G" x="268.5" y="497.5" width="39" height="15"/><text class="r" x="288" y="505">G-6-P</text></g>
<g id="c-Myo"><rect class="R" x="158" y="524.5" width="84" height="15"/><text class="g" x="200" y="532">Myo-inositol</text></g>
<g id="c-Glucose"><rect class="G" x="262" y="524.5" width="52" height="15"/><text class="r" x="288" y="532">Glucose</text></g>
<g id="c-PRPP1"><text class="y" x="69" y="549">PRPP</text></g>
<g id="c-dGDP"><text class="r" x="214" y="565">dGDP</text></g>
<g id="c-dGTP"><rect class="G" x="267" y="557.5" width="40" height="15"/><text class="r" x="287" y="565">dGTP</text></g>
<g id="c-Taurine"><rect class="G" x="364.5" y="13.5" width="47" height="15"/><text class="r" x="388" y="21">Taurine</text></g>
<g id="c-CST"><rect class="G" x="419" y="13.5" width="30" height="15"/><text class="r" x="434" y="21">CST</text></g>
<g id="c-Hcy"><rect class="G" x="482.5" y="13.5" width="27" height="15"/><text class="r" x="496" y="21">Hcy</text></g>
<g id="c-Met"><rect class="R" x="544.5" y="13.5" width="29" height="15"/><text class="g" x="559" y="21">Met</text></g>
<g id="c-PyroGlu"><rect class="R" x="316" y="33.5" width="54" height="15"/><text class="g" x="343" y="41">PyroGlu</text></g>
<g id="c-Glu2"><rect class="R" x="376" y="62.5" width="28" height="15"/><text class="g" x="390" y="70">Glu</text></g>
<g id="c-Cys"><rect class="R" x="423.5" y="41.5" width="25" height="15"/><text class="g" x="436" y="49">Cys</text></g>
<g id="c-Gly2"><rect class="R" x="455.5" y="41.5" width="25" height="15"/><text class="g" x="468" y="49">Gly</text></g>
<g id="c-Ser2"><rect class="R" x="485" y="41.5" width="26" height="15"/><text class="g" x="498" y="49">Ser</text></g>
<g id="c-GSH"><rect class="G" x="510" y="63.5" width="30" height="15"/><text class="r" x="525" y="71">GSH</text></g>
<g id="c-GSSH"><rect class="G" x="559.5" y="63.5" width="41" height="15"/><text class="k" x="580" y="71">GSSH</text></g>
<g id="c-Deoxyuridine"><text class="r" x="647" y="50">Deoxyuridine</text></g>
<g id="c-dCDP"><rect class="R" x="418" y="82.5" width="40" height="15"/><text class="g" x="438" y="90">dCDP</text></g>
<g id="c-dCTP"><text class="k" x="499" y="90">dCTP</text></g>
<g id="c-DNA"><text class="y" x="574" y="90">DNA</text></g>
<g id="c-dTMP"><rect class="G" x="625" y="82.5" width="42" height="15"/><text class="r" x="646" y="90">dTMP</text></g>
<g id="c-Gln2"><rect class="R" x="376.5" y="112.5" width="27" height="15"/><text class="g" x="390" y="120">Gln</text></g>
<g id="c-CTP"><rect class="G" x="424" y="112.5" width="32" height="15"/><text class="r" x="440" y="120">CTP</text></g>
<g id="c-CMP"><text class="r" x="500" y="120">CMP</text></g>
<g id="c-Cytidine"><text class="r" x="575" y="120">Cytidine</text></g>
<g id="c-Thymidine"><text class="r" x="648" y="120">Thymidine</text></g>
<g id="c-CarP2"><rect class="G" x="370" y="145.5" width="40" height="15"/><text class="g" x="390" y="153">Car-P</text></g>
<g id="c-UMP"><rect class="G" x="423.5" y="144.5" width="35" height="15"/><text class="r" x="441" y="152">UMP</text></g>
<g id="c-Uridine"><rect class="G" x="475.5" y="144.5" width="49" height="15"/><text class="r" x="500" y="152">Uridine</text></g>
<g id="c-DRP"><text class="g" x="582" y="153">DRP</text></g>
<g id="c-Thymine"><rect class="G" x="620" y="145.5" width="58" height="15"/><text class="k" x="649" y="153">Thymine</text></g>
<g id="c-CA"><rect class="G" x="376.5" y="178.5" width="27" height="15"/><text class="k" x="390" y="186">CA</text></g>
<g id="c-O5P"><rect class="G" x="425" y="178.5" width="32" height="15"/><text class="r" x="441" y="186">O-5P</text></g>
<g id="c-Uracil"><rect class="G" x="478" y="178.5" width="42" height="15"/><text class="r" x="499" y="186">Uracil</text></g>
<g id="c-Urea2"><rect class="G" x="547" y="177.5" width="36" height="15"/><text class="r" x="565" y="185">Urea</text></g>
<g id="c-BetaAla"><rect class="R" x="603.5" y="177.5" width="59" height="15"/><text class="k" x="633" y="185">Beta-Ala</text></g>
<g id="c-Asp2"><rect class="R" x="680" y="177.5" width="26" height="15"/><text class="g" x="693" y="185">Asp</text></g>
<g id="c-DO"><text class="g" x="388" y="220">DO</text></g>
<g id="c-Orotate"><text class="y" x="442" y="220">Orotate</text></g>
<g id="c-Dihydrouracil"><rect class="G" x="470" y="212.5" width="84" height="15"/><text class="r" x="512" y="220">Dihydrouracil</text></g>
<g id="c-Ureido"><text class="y" x="644" y="220">3-Ureidopropionate</text></g>
<g id="c-3HB"><text class="g" x="450" y="244">3-HB</text></g>
<g id="c-Acetoacetate"><rect class="G" x="502.5" y="236.5" width="85" height="15"/><text class="r" x="545" y="244">Acetoacetate</text></g>
<g id="c-GPP"><text class="g" x="614" y="246">G-PP</text></g>
<g id="c-Cholesterol"><rect class="G" x="637.5" y="238.5" width="75" height="15"/><text class="k" x="675" y="246">Cholesterol</text></g>
<g id="c-FPP"><text class="r" x="676" y="273">F-PP</text></g>
<g id="c-Lys"><rect class="R" x="362" y="248.5" width="28" height="15"/><text class="g" x="376" y="256">Lys</text></g>
<g id="c-AcCoA3"><rect class="G" x="342.5" y="281.5" width="49" height="15"/><text class="r" x="367" y="289">AcCoA</text></g>
<g id="c-AAcCoA"><text class="y" x="454" y="289">AAcCoA</text></g>
<g id="c-HMGCoA2"><text class="y" x="543" y="289">HMG-CoA</text></g>
<g id="c-Mevalonic"><text class="y" x="652" y="289">Mevalonic acid</text></g>
<g id="c-Oleic"><text class="g" x="452" y="314">Oleic acid</text></g>
<g id="c-Palmitoleic"><rect class="R" x="516.5" y="306.5" width="105" height="15"/><text class="g" x="569" y="314">Palmitoleic Acid</text></g>
<g id="c-Arachidonic"><text class="y" x="456" y="339">Arachidonic acid</text></g>
<g id="c-Eicosenoic"><text class="y" x="567" y="339">Eicosenoic acid</text></g>
<g id="c-Palmitic"><text class="g" x="457" y="361">Palmitic acid</text></g>
<g id="c-Stearic"><text class="g" x="570" y="361">Stearic Acid</text></g>
<g id="c-Glycerol3P"><rect class="G" x="334" y="385.5" width="82" height="15"/><text class="r" x="375" y="393">Glycerol 3-P</text></g>
<g id="c-Glycerol"><text class="k" x="465" y="393">Glycerol</text></g>
<g id="c-Acylglycerol"><text class="y" x="566" y="393">1-Acylglycerol</text></g>
<g id="c-ATP"><rect class="G" x="626" y="372.5" width="30" height="15"/><text class="r" x="641" y="380">ATP</text></g>
<g id="c-APS"><text class="r" x="689" y="380">APS</text></g>
<g id="c-AMP"><text class="r" x="547" y="415">AMP</text></g>
<g id="c-CyclicAMP"><text class="g" x="639" y="415">Cyclic AMP</text></g>
<g id="c-Adenosine"><text class="g" x="453" y="439">Adenosine</text></g>
<g id="c-Dadenosine"><text class="g" x="551" y="439">D-adenosine</text></g>
<g id="c-dAMP"><rect class="G" x="619" y="431.5" width="44" height="15"/><text class="r" x="641" y="439">dAMP</text></g>
<g id="c-DHAP"><rect class="G" x="346" y="431.5" width="48" height="15"/><text class="r" x="370" y="439">DHAP</text></g>
<g id="c-Inosine"><rect class="G" x="428.5" y="462.5" width="49" height="15"/><text class="r" x="453" y="470">Inosine</text></g>
<g id="c-Hxanthine"><rect class="R" x="511.5" y="462.5" width="71" height="15"/><text class="g" x="547" y="470">H-xanthine</text></g>
<g id="c-XMP"><rect class="G" x="620.5" y="462.5" width="45" height="15"/><text class="k" x="643" y="470">XMP</text></g>
<g id="c-ITP"><text class="r" x="405" y="483">ITP</text></g>
<g id="c-Fructose"><text class="y" x="372" y="500">Fructose</text></g>
<g id="c-IMP"><text class="y" x="454" y="501">IMP</text></g>
<g id="c-Xanthine"><text class="r" x="548" y="501">Xanthine</text></g>
<g id="c-Xanthosine"><text class="r" x="645" y="500">Xanthosine</text></g>
<g id="c-Sorbitol"><text class="y" x="372" y="533">Sorbitol</text></g>
<g id="c-PRPP2"><text class="y" x="455" y="532">PRPP</text></g>
<g id="c-UricAcid"><rect class="G" x="516.5" y="524.5" width="61" height="15"/><text class="r" x="547" y="532">Uric acid</text></g>
<g id="c-Allantoin"><rect class="G" x="614.5" y="524.5" width="59" height="15"/><text class="r" x="644" y="532">Allantoin</text></g>
<g id="c-Guanosine"><rect class="G" x="338" y="557.5" width="70" height="15"/><text class="r" x="373" y="565">Guanosine</text></g>
<g id="c-Guanine"><text class="g" x="456" y="565">Guanine</text></g>
<g id="c-Urea3"><rect class="G" x="531.5" y="557.5" width="37" height="15"/><text class="r" x="550" y="565">Urea</text></g>
<g id="c-Allantoate"><rect class="G" x="609" y="557.5" width="68" height="15"/><text class="r" x="643" y="565">Allantoate</text></g>
<g id="legend-c" class="lg" transform="translate(0,5)">
<text class="r" x="38" y="598">Red</text><text class="k" x="85" y="598">Up-regulated in db/db versus db/m group</text>
<text class="g" x="38" y="615">Green</text><text class="k" x="85" y="615">Down-regulated in db/db versus db/m group</text>
<text class="k" x="38" y="632">Black</text><text class="k" x="85" y="632">No significant change in db/db versus db/m group</text>
<text class="y" x="38" y="649">Gray</text><text class="k" x="85" y="649">Not detected in db/db versus db/m group</text>
<rect class="R" x="402" y="590" width="25" height="14"/><text class="k" x="440" y="597">Up-regulated in BaiLing versus db/db group</text>
<rect class="G" x="402" y="607" width="25" height="14"/><text class="k" x="440" y="615">Down-regulated in BaiLing versus db/db group</text>
<path class="s d e" d="M425,632H405"/><text class="k" x="440" y="632">Indirect biochemical reation</text>
<path class="s e" d="M425,649H405"/><text class="k" x="440" y="649">Direct biochemical reation</text>
</g>
</g>
<text class="k" x="363" y="2112" style="font-size:14.5px">(c)</text>
</svg>
